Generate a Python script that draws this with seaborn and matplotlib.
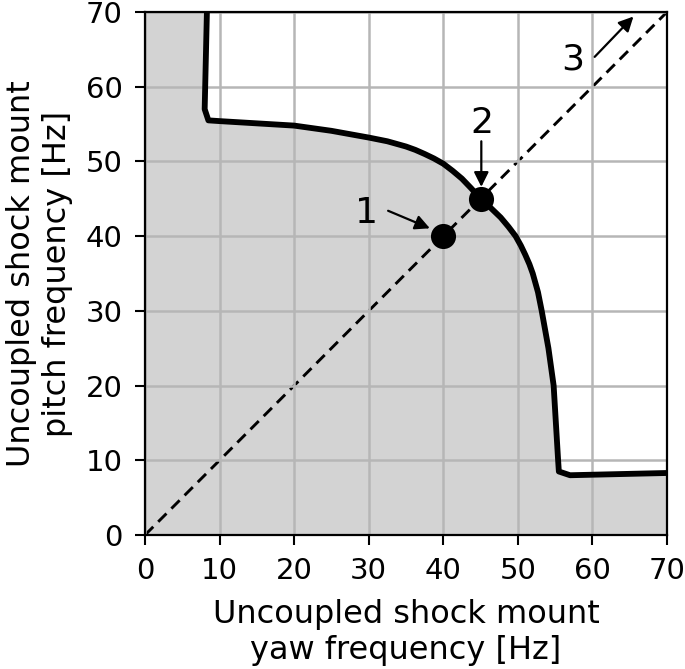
import matplotlib
matplotlib.use("Agg")
import matplotlib.pyplot as plt
import seaborn as sns
import pandas as pd

# boundary curve (yaw frequency, pitch frequency)
curve_x = [8.3, 8.0, 8.5, 10, 15, 20, 25, 30, 32.5, 35, 36.25, 37.5, 38.75, 40,
           41.25, 42.5, 43.75, 45, 46.4, 47.7, 48.75, 49.7, 50.4, 51.0, 51.55,
           52.0, 52.7, 53.2, 54.1, 54.8, 55.1, 55.4, 55.5, 57, 70]
curve_y = [70, 57, 55.5, 55.4, 55.1, 54.8, 54.1, 53.2, 52.7, 52.0, 51.55, 51.0,
           50.4, 49.7, 48.75, 47.7, 46.4, 45, 43.75, 42.5, 41.25, 40, 38.75,
           37.5, 36.25, 35, 32.5, 30, 25, 20, 15, 10, 8.5, 8.0, 8.3]

diag = [0, 70]
pts_x = [40, 45]
pts_y = [40, 45]
labels = ["1", "2", "3"]
ticks = [0, 10, 20, 30, 40, 50, 60, 70]

sns.set_theme(style="white", rc={"text.color": "black",
                                 "axes.labelcolor": "black",
                                 "xtick.color": "black",
                                 "ytick.color": "black"})
plt.rcParams["font.family"] = ["DejaVu Sans"]

fig = plt.figure(figsize=(6.85, 6.69), dpi=100)
ax = fig.add_axes([0.2117, 0.2003, 0.7620, 0.7817])

# gray feasible region
poly_x = curve_x + [70, 0, 0]
poly_y = curve_y + [0, 0, 70]
ax.fill(poly_x, poly_y, color="#d3d3d3", zorder=0, lw=0)

ax.grid(True, color="#b6b6b6", lw=1.8)
ax.set_axisbelow(False)
for gl in ax.get_xgridlines() + ax.get_ygridlines():
    gl.set_zorder(1)

df_curve = pd.DataFrame({"x": curve_x, "y": curve_y})
sns.lineplot(data=df_curve, x="x", y="y", sort=False, estimator=None,
             color="black", lw=4.2, ax=ax, zorder=3)
sns.lineplot(x=diag, y=diag, color="black", lw=2.1, ls=(0, (4, 2.4)),
             ax=ax, zorder=2)
sns.scatterplot(x=pts_x, y=pts_y, color="black", s=280, edgecolor="black",
                ax=ax, zorder=4)

arrow = dict(arrowstyle="-|>", color="black", lw=1.6, mutation_scale=22,
             shrinkA=0, shrinkB=0)
ax.annotate("", xy=(38.2, 41.05), xytext=(32.6, 43.4), arrowprops=arrow)
ax.text(29.7, 43.1, labels[0], fontsize=26, ha="center", va="center")
ax.annotate("", xy=(45.1, 46.6), xytext=(45.1, 52.7), arrowprops=arrow)
ax.text(45.2, 55.1, labels[1], fontsize=26, ha="center", va="center")
ax.annotate("", xy=(65.5, 69.4), xytext=(60.3, 64.0), arrowprops=arrow)
ax.text(57.4, 63.6, labels[2], fontsize=26, ha="center", va="center")

ax.set_xlim(0, 70)
ax.set_ylim(0, 70)
ax.set_xticks(ticks)
ax.set_yticks(ticks)
ax.tick_params(axis="both", direction="out", length=7, width=1.5,
               labelsize=21, color="black", bottom=True, left=True, pad=9)
for sp in ax.spines.values():
    sp.set_color("black")
    sp.set_linewidth(1.6)
    sp.set_zorder(5)

ax.set_xlabel("Uncoupled shock mount\nyaw frequency [Hz]", fontsize=23,
              linespacing=1.2, labelpad=10)
ax.set_ylabel("Uncoupled shock mount\npitch frequency [Hz]", fontsize=23,
              linespacing=1.2, labelpad=9)

fig.savefig("out.png", dpi=100)
